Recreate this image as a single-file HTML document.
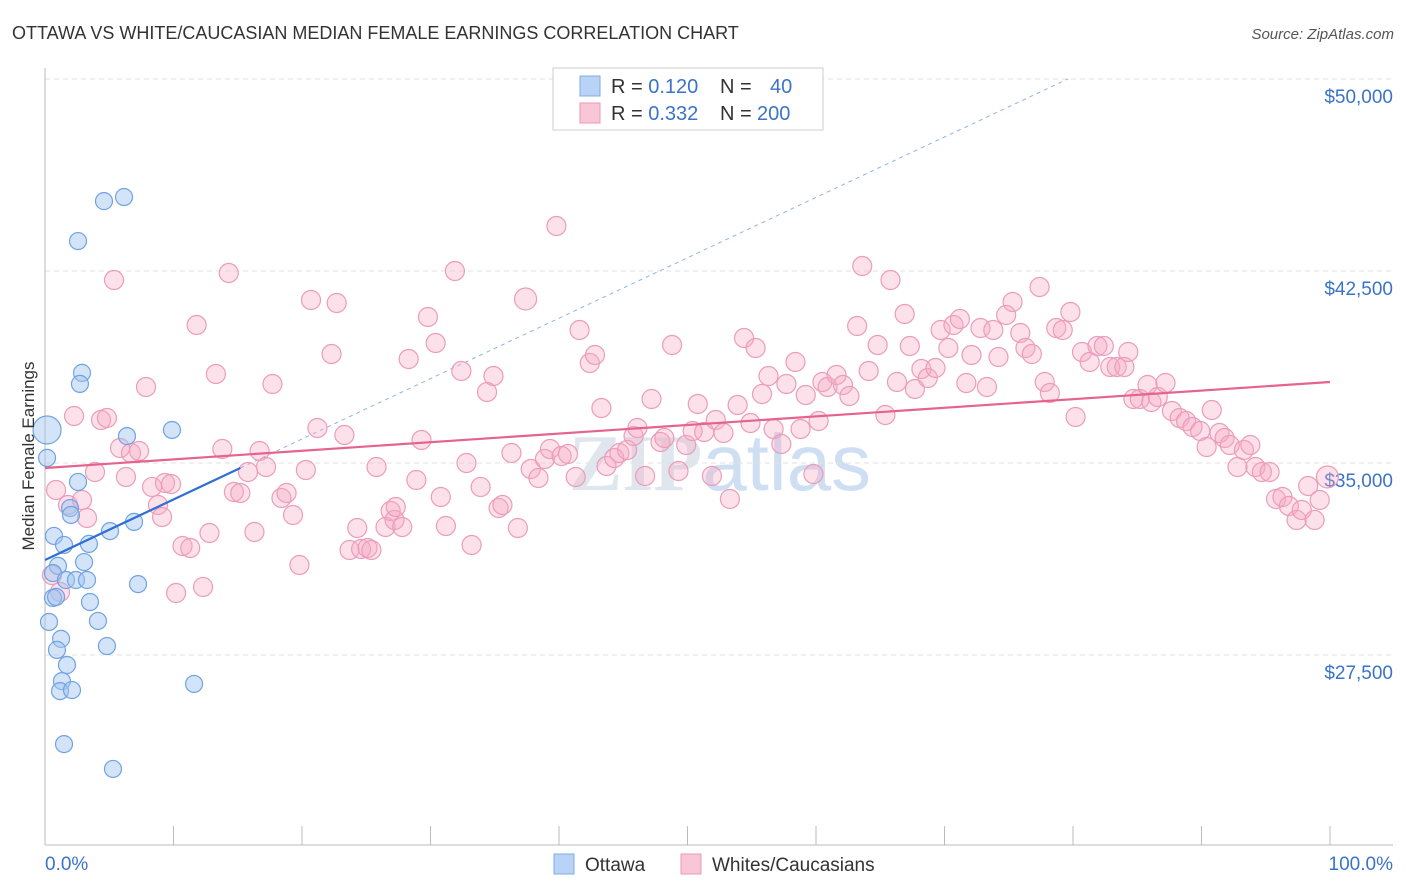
<!DOCTYPE html>
<html><head><meta charset="utf-8"><style>
body{margin:0;background:#fff;font-family:"Liberation Sans",sans-serif;}
#wrap{position:relative;width:1406px;height:892px;overflow:hidden;}
</style></head><body>
<div id="wrap">
<svg id="chart" width="1406" height="892" xmlns="http://www.w3.org/2000/svg">
<text x="12" y="39" font-size="18" fill="#333">OTTAWA VS WHITE/CAUCASIAN MEDIAN FEMALE EARNINGS CORRELATION CHART</text>
<text x="1394" y="39" font-size="15" fill="#555" text-anchor="end" font-style="italic">Source: ZipAtlas.com</text>
<text x="720" y="490" font-size="80" font-weight="bold" fill="#dfe6ee" text-anchor="middle" font-family="Liberation Serif,serif">ZIP<tspan font-family="Liberation Sans,sans-serif" font-weight="normal" fill="#cfdff3">atlas</tspan></text>
<g id="grid"></g><g id="axes"></g><g id="trend"></g><g id="pts"></g>
<text transform="translate(34,456) rotate(-90)" font-size="17" fill="#333" text-anchor="middle">Median Female Earnings</text>
<g>
<rect x="553" y="68" width="270" height="62" fill="#fff" stroke="#ccc"/>
<rect x="580" y="76" width="20" height="20" fill="#b8d3f5" stroke="#7eaee6"/>
<rect x="580" y="103" width="20" height="20" fill="#f9c6d7" stroke="#e99ab6"/>
<text x="611" y="93" font-size="20" fill="#333">R = <tspan fill="#3b73c9">0.120</tspan><tspan x="720">N = </tspan><tspan x="770" fill="#3b73c9">40</tspan></text>
<text x="611" y="120" font-size="20" fill="#333">R = <tspan fill="#3b73c9">0.332</tspan><tspan x="720">N = </tspan><tspan x="757" fill="#3b73c9">200</tspan></text>
</g>
<g>
<rect x="554" y="854" width="20" height="20" fill="#b8d3f5" stroke="#7eaee6"/>
<text x="585" y="871" font-size="19" fill="#333">Ottawa</text>
<rect x="681" y="854" width="20" height="20" fill="#f9c6d7" stroke="#e99ab6"/>
<text x="712" y="871" font-size="19" fill="#333">Whites/Caucasians</text>
</g>
<text x="45" y="870" font-size="19" fill="#3b73c9">0.0%</text>
<text x="1393" y="870" font-size="19" fill="#3b73c9" text-anchor="end">100.0%</text>
</svg>
</div>
<script>
const yTicks=[50000,42500,35000,27500];
const yTickLabels=["$50,000","$42,500","$35,000","$27,500"];
const xTicks=[0,10,20,30,40,50,60,70,80,90,100];
const ottawaX=[0.16,0.16,6.15,4.59,2.57,2.88,2.72,6.38,9.88,2.57,1.95,2.02,5.06,6.93,0.70,3.42,1.48,1.01,3.04,0.62,1.63,2.41,3.27,7.24,0.62,0.86,3.50,4.12,0.31,1.25,0.93,4.82,1.71,1.32,1.17,2.10,11.6,1.48,5.29];
const ottawaY=[36290,35200,45390,45230,43670,38520,38090,36050,36290,34260,33240,32970,32340,32700,32150,31840,31800,30980,31130,30700,30430,30430,30430,30270,29730,29770,29570,28830,28790,28130,27700,27850,27110,26480,26090,26130,26370,24020,23050];
const whiteX=[0.54,0.86,1.17,1.79,2.26,2.88,3.27,3.89,4.36,4.82,5.37,5.84,6.30,6.69,7.32,7.86,8.33,8.79,9.11,9.34,9.81,10.2,10.7,11.3,11.8,12.3,12.8,13.3,13.8,14.3,14.7,15.2,15.8,16.3,16.7,17.2,17.7,18.4,18.8,19.3,19.8,20.3,20.7,21.2,22.3,22.7,23.3,23.7,24.3,24.6,25.1,25.4,25.8,26.5,26.9,27.2,27.3,27.8,28.3,28.9,29.3,29.8,30.4,30.8,31.2,31.9,32.4,32.8,33.2,33.9,34.4,34.9,35.3,35.6,36.3,36.8,37.4,37.8,38.4,38.9,39.3,39.8,40.2,40.7,41.3,41.6,42.4,42.8,43.3,43.7,44.3,44.7,45.3,45.8,46.1,46.7,47.2,47.9,48.2,48.8,49.3,49.9,50.4,50.8,51.3,51.9,52.2,52.8,53.3,53.9,54.4,54.9,55.3,55.8,56.3,56.7,57.3,57.7,58.4,58.8,59.2,59.8,60.2,60.5,60.9,61.6,62.1,62.6,63.2,63.6,64.1,64.8,65.4,65.8,66.3,66.9,67.3,67.7,68.2,68.7,69.3,69.7,70.3,70.7,71.2,71.7,72.1,72.8,73.3,73.8,74.2,74.8,75.3,75.9,76.3,76.8,77.4,77.8,78.2,78.7,79.2,79.8,80.2,80.7,81.3,81.9,82.4,82.9,83.4,84.0,84.3,84.7,85.2,85.8,86.1,86.6,87.2,87.7,88.3,88.8,89.3,89.9,90.4,90.8,91.4,91.8,92.2,92.8,93.3,93.8,94.2,94.7,95.3,95.8,96.3,96.8,97.4,97.8,98.3,98.8,99.2,99.8];
const whiteY=[30625,33945,29962,33360,36837,33556,32853,34649,36680,36759,42149,35587,34454,35392,35470,37970,34064,33360,32892,34220,34181,29923,31759,31681,40391,30158,32267,38477,35548,42422,33868,33829,34649,32306,35470,34845,38087,33634,33829,32970,31017,34728,41368,36368,39258,41251,36095,31603,32462,31642,31681,31603,34845,32501,33126,32775,33282,32501,39063,34337,35899,40704,39688,33673,32540,42500,38594,35001,31798,34064,37774,38399,33243,33360,35392,32462,41407,34767,34415,35157,35548,44258,35274,35352,34454,40196,38907,39219,37149,34884,35196,35392,35509,36056,36368,34493,37501,35821,35977,39610,34688,35704,36251,37305,36212,34493,36680,36173,33595,37266,39883,36563,39493,37696,38399,36329,35743,38087,38946,36329,37657,34571,36641,38165,37970,38438,38048,37618,40352,42696,38594,39610,36876,42149,38165,40821,39571,37891,38673,38321,38712,40196,39493,40391,40626,38126,39219,40274,37970,40196,39141,40782,41290,40079,39493,39258,41876,38165,37735,40274,40196,40899,36798,39337,38946,39571,39571,38751,38751,38751,39337,37501,37501,38048,37384,37579,38126,37032,36759,36641,36407,36251,35626,37071,36173,35977,35704,34845,35509,35704,34845,34649,34649,33595,33673,33321,32775,33165,34103,32775,33556,34454];
const ottawaTrendX=[0,15.2], ottawaTrendY=[31211,34805];
const ottawaExtX=[15.2,79.6], ottawaExtY=[34805,50000];
const whiteTrendX=[0,100], whiteTrendY=[34805,38165];

const NS="http://www.w3.org/2000/svg";
const xs=v=>45+v*12.85;
const ys=v=>79+(50000-v)*0.0256;
function mk(tag,attrs,parent){const e=document.createElementNS(NS,tag);for(const k in attrs)e.setAttribute(k,attrs[k]);document.getElementById(parent).appendChild(e);return e;}
yTicks.forEach((t,i)=>{
  const l=mk('line',{x1:45,x2:1393,y1:ys(t),y2:ys(t),stroke:'#e2e2e2','stroke-dasharray':'5,4'},'grid');
  
  
  const tx=mk('text',{x:1393,y:ys(t)+24,'font-size':19,fill:'#3b73c9','text-anchor':'end'},'grid');
  tx.textContent=yTickLabels[i];
  
  
});
const topLine=mk('line',{x1:45,x2:1393,y1:79,y2:79,stroke:'#e2e2e2','stroke-dasharray':'5,4'},'grid');


const yax=mk('line',{x1:45,x2:45,y1:68,y2:845,stroke:'#bbb'},'axes');


const xax=mk('line',{x1:45,x2:1393,y1:845,y2:845,stroke:'#bbb'},'axes');


xTicks.forEach(t=>{
  const l=mk('line',{x1:xs(t),x2:xs(t),y1:826,y2:845,stroke:'#bbb'},'axes');
  
  
});
whiteX.forEach((v,i)=>{
  const c=mk('circle',{cx:xs(v),cy:ys(whiteY[i]),r:(i==76||i==201)?11:9.5,fill:'rgba(246,170,196,0.35)',stroke:'#ec9cb9','stroke-width':1.2},'pts');
  
  
});
ottawaX.forEach((v,i)=>{
  const c=mk('circle',{cx:xs(v),cy:ys(ottawaY[i]),r:i==0?14:8.5,fill:'rgba(160,196,240,0.45)',stroke:'#6fa3e3','stroke-width':1.2},'pts');
  
  
});
const e1=mk('line',{x1:xs(ottawaExtX[0]),y1:ys(ottawaExtY[0]),x2:xs(ottawaExtX[1]),y2:ys(ottawaExtY[1]),stroke:'#8fb4e6','stroke-dasharray':'4,4','stroke-width':1},'trend');


const t2=mk('line',{x1:xs(whiteTrendX[0]),y1:ys(whiteTrendY[0]),x2:xs(whiteTrendX[1]),y2:ys(whiteTrendY[1]),stroke:'#e5638e','stroke-width':2.2},'pts');


const t1=mk('line',{x1:xs(ottawaTrendX[0]),y1:ys(ottawaTrendY[0]),x2:xs(ottawaTrendX[1]),y2:ys(ottawaTrendY[1]),stroke:'#2f6fd0','stroke-width':2.2},'pts');


</script>
</body></html>
